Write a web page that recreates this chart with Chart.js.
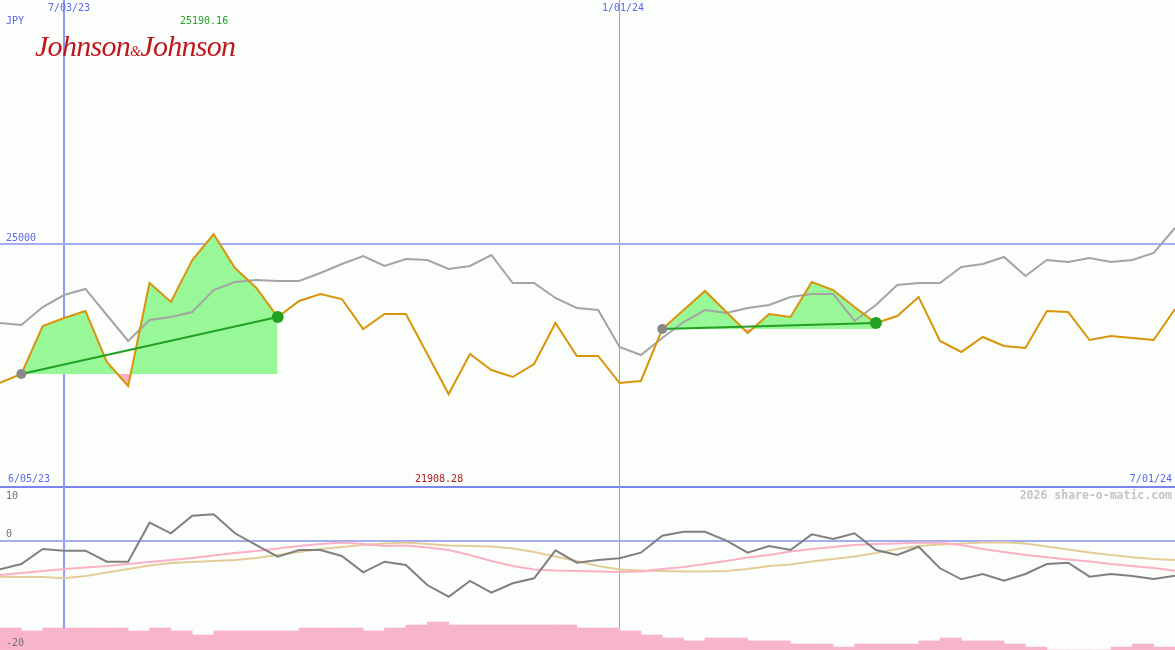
<!DOCTYPE html>
<html>
<head>
<meta charset="utf-8">
<script src="https://cdn.jsdelivr.net/npm/chart.js@4.4.1/dist/chart.umd.min.js"></script>
<style>
    body { margin: 0; background: #fcfefb; }
    #wrap { position: relative; width: 1175px; height: 650px; overflow: hidden; background: #fcfefb; }
    canvas { position: absolute; left: 0; }
    #priceChart { top: 0; }
    #oscChart { top: 487px; }
    .lbl { position: absolute; font-family: "DejaVu Sans Mono", monospace; font-size: 10px; line-height: 12px; white-space: nowrap; }
    .blue { color: #5a68f0; }
    .logo { position: absolute; left: 35px; top: 29px; font-family: "Liberation Serif", serif; font-style: italic; font-size: 30px; color: #c0161e; letter-spacing: -0.7px; }
    .logo small { font-size: 14px; }
</style>
</head>
<body>
<div id="wrap">
    <canvas id="priceChart" width="1175" height="490"></canvas>
    <canvas id="oscChart" width="1175" height="163"></canvas>

    <div class="lbl blue" style="left:48px; top:2px;">7/03/23</div>
    <div class="lbl blue" style="left:602px; top:2px;">1/01/24</div>
    <div class="lbl blue" style="left:6px; top:15px;">JPY</div>
    <div class="lbl" style="left:180px; top:15px; color:#22a022;">25190.16</div>
    <div class="logo">Johnson<small>&amp;</small>Johnson</div>
    <div class="lbl blue" style="left:6px; top:232px;">25000</div>
    <div class="lbl blue" style="left:8px; top:473px;">6/05/23</div>
    <div class="lbl" style="left:415px; top:473px; color:#b01c1c;">21908.28</div>
    <div class="lbl blue" style="right:3px; top:473px;">7/01/24</div>
    <div class="lbl" style="right:3px; top:489px; font-size:11.5px; font-weight:bold; color:#c4c4c4;">2026 share-o-matic.com</div>
    <div class="lbl" style="left:6px; top:490px; color:#707070;">10</div>
    <div class="lbl" style="left:6px; top:528px; color:#707070;">0</div>
    <div class="lbl" style="left:6px; top:637px; color:#707070;">-20</div>
</div>

<script>
// weekly closes, index 0 = 6/12/23 ... index 55 = 7/01/24
const priceJPY = [
    22140, 22320, 23306, 23470, 23614, 22567, 22074, 24189, 23799, 24661,
    25190.16, 24497, 24086, 23491, 23819, 23963, 23860, 23244, 23552, 23552,
    22731, 21908.28, 22731, 22402, 22259, 22526, 23367, 22690, 22690, 22135,
    22177, 23244, 23634, 24025, 23593, 23162, 23552, 23491, 24209, 24045,
    23696, 23367, 23511, 23901, 22998, 22772, 23080, 22895, 22854, 23614,
    23593, 23018, 23100, 23059, 23018, 23655
];
const avgJPY = [
    23367, 23326, 23696, 23942, 24066, 23532, 22998, 23429, 23491, 23593,
    24045, 24209, 24250, 24230, 24230, 24394, 24579, 24743, 24538, 24682,
    24661, 24476, 24538, 24764, 24189, 24189, 23881, 23676, 23634, 22875,
    22710, 23059, 23388, 23634, 23573, 23676, 23737, 23901, 23963, 23963,
    23409, 23737, 24148, 24189, 24189, 24517, 24579, 24723, 24333, 24661,
    24620, 24702, 24620, 24661, 24805, 25318
];
// up-swings: [start index, end index]
const swings = [[1, 13], [31, 41]];

const oscLine = [
    -5.15, -4.17, -1.41, -1.72, -1.72, -3.75, -3.75, 3.43, 1.48, 4.72,
    4.98, 1.48, -0.68, -2.83, -1.6, -1.6, -2.7, -5.7, -3.75, -4.36,
    -8.04, -10.19, -7.3, -9.45, -7.72, -6.8, -1.65, -3.93, -3.44, -3.12,
    -2.09, 1.04, 1.77, 1.77, 0.12, -2.09, -0.86, -1.6, 1.29, 0.43,
    1.48, -1.6, -2.52, -0.99, -4.96, -6.99, -6.01, -7.25, -6.01, -4.17,
    -3.93, -6.51, -6.01, -6.38, -6.93, -6.33
];
const oscPink = [
    -6.2, -5.83, -5.46, -5.09, -4.82, -4.54, -4.17, -3.8, -3.44, -3.07,
    -2.61, -2.15, -1.78, -1.32, -0.86, -0.49, -0.22, -0.49, -0.86, -0.77,
    -1.14, -1.6, -2.52, -3.62, -4.54, -5.18, -5.37, -5.46, -5.55, -5.65,
    -5.55, -5.09, -4.72, -4.17, -3.62, -2.98, -2.52, -1.87, -1.41, -1.04,
    -0.68, -0.49, -0.4, -0.25, -0.25, -0.68, -1.41, -1.96, -2.52, -2.94,
    -3.34, -3.71, -4.17, -4.54, -4.91, -5.41
];
const oscTan = [
    -6.51, -6.57, -6.57, -6.8, -6.38, -5.74, -5.09, -4.45, -3.99, -3.8,
    -3.62, -3.44, -3.07, -2.52, -1.96, -1.41, -1.04, -0.68, -0.4, -0.22,
    -0.49, -0.77, -0.86, -0.95, -1.32, -1.96, -2.79, -3.62, -4.54, -5.18,
    -5.37, -5.46, -5.55, -5.55, -5.46, -5.09, -4.54, -4.26, -3.71, -3.25,
    -2.79, -2.15, -1.41, -0.86, -0.58, -0.4, -0.22, -0.18, -0.4, -0.95,
    -1.5, -2.06, -2.52, -2.94, -3.25, -3.44
];
// bars between consecutive weeks
const volBars = [
    -15.95, -16.5, -15.95, -15.95, -15.95, -15.95, -16.5, -15.95, -16.5, -17.24,
    -16.5, -16.5, -16.5, -16.5, -15.95, -15.95, -15.95, -16.5, -15.95, -15.4,
    -14.85, -15.4, -15.4, -15.4, -15.4, -15.4, -15.4, -15.95, -15.95, -16.5,
    -17.24, -17.79, -18.34, -17.79, -17.79, -18.34, -18.34, -18.9, -18.9, -19.45,
    -18.9, -18.9, -18.9, -18.34, -17.79, -18.34, -18.34, -18.9, -19.45, -20,
    -20, -20, -19.45, -18.9, -19.45
];
const dateTicks = [3, 29];
const priceTicks = [20000, 25000];

const pts = arr => arr.map((v, i) => ({ x: i, y: v }));

function swingFill(s) {
    const [a, b] = s;
    return {
        type: 'line',
        data: priceJPY.map((v, i) => ({ x: i, y: (i >= a && i <= b) ? v : null })),
        borderWidth: 0,
        pointRadius: 0,
        spanGaps: false,
        fill: { value: priceJPY[a], above: '#98f898', below: '#fbb4c4' },
        order: 10
    };
}

function swingLine(s) {
    const [a, b] = s;
    return {
        type: 'line',
        data: [{ x: a, y: priceJPY[a] }, { x: b, y: priceJPY[b] }],
        borderColor: '#22a022',
        borderWidth: 2,
        pointRadius: [5, 6],
        pointBackgroundColor: ['#888888', '#22a022'],
        pointBorderWidth: 0,
        fill: false,
        order: 1
    };
}

const xScale = {
    type: 'linear',
    min: 0,
    max: 55,
    offset: false,
    afterBuildTicks: s => { s.ticks = dateTicks.map(v => ({ value: v })); },
    afterFit: s => { s.height = 0; },
    ticks: { display: false },
    border: { display: false },
    grid: {
        offset: false,
        drawTicks: false,
        color: '#8c9aff',
        lineWidth: ctx => ctx.tick && ctx.tick.value === 3 ? 2 : 1
    }
};

const common = {
    responsive: false,
    animation: false,
    devicePixelRatio: 1,
    plugins: { legend: { display: false }, tooltip: { enabled: false } },
    elements: { line: { tension: 0, borderJoinStyle: 'miter' } }
};

new Chart(document.getElementById('priceChart'), {
    type: 'line',
    data: {
        datasets: [
            ...swings.map(swingFill),
            {
                data: pts(avgJPY),
                borderColor: '#a4a4a4',
                borderWidth: 2,
                pointRadius: 0,
                order: 5
            },
            {
                data: pts(priceJPY),
                borderColor: '#d9940a',
                borderWidth: 2,
                pointRadius: 0,
                order: 3
            },
            ...swings.map(swingLine)
        ]
    },
    options: {
        ...common,
        layout: { autoPadding: false, padding: { left: 0, right: 0, top: 0, bottom: 3 } },
        scales: {
            x: xScale,
            y: {
                min: 20000,
                max: 30000,
                afterBuildTicks: s => { s.ticks = priceTicks.map(v => ({ value: v })); },
                afterFit: s => { s.width = 0; },
                ticks: { display: false },
                border: { display: false },
                grid: {
                    drawTicks: false,
                    lineWidth: 2,
                    color: ctx => ctx.tick && ctx.tick.value === 20000 ? '#7886ee' : '#a4acf4'
                }
            }
        }
    }
});

new Chart(document.getElementById('oscChart'), {
    type: 'line',
    data: {
        datasets: [
            {
                type: 'bar',
                data: volBars.map((v, i) => ({ x: i + 0.5, y: v })),
                base: -20,
                backgroundColor: '#f8b4c8',
                borderWidth: 0,
                barPercentage: 1,
                categoryPercentage: 1,
                order: 1
            },
            {
                data: pts(oscTan),
                borderColor: '#e4cc98',
                borderWidth: 2,
                pointRadius: 0,
                order: 4
            },
            {
                data: pts(oscPink),
                borderColor: '#fcb0c4',
                borderWidth: 2,
                pointRadius: 0,
                order: 3
            },
            {
                data: pts(oscLine),
                borderColor: '#808080',
                borderWidth: 2,
                pointRadius: 0,
                order: 2
            }
        ]
    },
    options: {
        ...common,
        layout: { autoPadding: false, padding: 0 },
        scales: {
            x: xScale,
            y: {
                min: -20,
                max: 10,
                afterBuildTicks: s => { s.ticks = [{ value: 0 }]; },
                afterFit: s => { s.width = 0; },
                ticks: { display: false },
                border: { display: false },
                grid: { drawTicks: false, lineWidth: 2, color: '#a4acf4' }
            }
        }
    }
});
</script>
</body>
</html>
